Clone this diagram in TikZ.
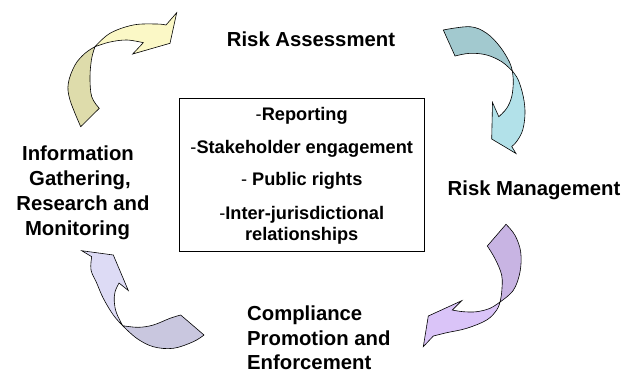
\documentclass[tikz,border=0pt]{standalone}
\usepackage{fontspec}
\setmainfont{Liberation Sans}
\definecolor{ylwHead}{HTML}{FBF8C6}
\definecolor{ylwTail}{HTML}{DEDCAB}
\definecolor{tealTail}{HTML}{A2C9CF}
\definecolor{tealHead}{HTML}{B2E1E9}
\definecolor{violTail}{HTML}{C8B4E3}
\definecolor{violHead}{HTML}{DAC4F8}
\definecolor{lilaTail}{HTML}{C9C7DF}
\definecolor{lilaHead}{HTML}{DDDBF5}
\begin{document}
\begin{tikzpicture}[x=1pt,y=-1pt,
  lbl/.style={font=\fontsize{20.3}{24.5}\selectfont\bfseries, inner sep=0pt},
  itm/.style={font=\fontsize{18.2}{21}\selectfont\bfseries, inner sep=0pt, anchor=base},
  band/.style={draw=black, line width=0.6pt, line join=miter},
  edge/.style={smooth, tension=0.6}]
\useasboundingbox (0,0) rectangle (623,373);

% ---------- twisted cycle arrows ----------
% top left (yellow)
\coordinate (A1) at (80.7,126.7); \coordinate (B1) at (99.3,108.3);
\coordinate (C1) at (95,46.7);    \coordinate (D1) at (166,25);
\coordinate (F1) at (176.7,12.7); \coordinate (G1) at (170,43.3);
\coordinate (H1) at (132.7,54);   \coordinate (E1) at (143.3,42.7);
\filldraw[band, fill=ylwTail]
  plot[edge] coordinates {(A1) (70,100) (68.3,83.3) (75,65) (85,53.3) (C1)}
  -- plot[edge] coordinates {(C1) (91.7,58.3) (90,76.7) (91.7,96.7) (B1)} -- cycle;
\filldraw[band, fill=ylwHead]
  plot[edge] coordinates {(C1) (110,33.3) (133.3,25) (156.7,24) (D1)}
  -- (F1) -- (G1) -- (H1) -- (E1)
  -- plot[edge] coordinates {(E1) (127,40) (110,42) (C1)} -- cycle;

% top right (teal)
\coordinate (A2) at (443.3,30);   \coordinate (B2) at (455,56);
\coordinate (C2) at (512.3,71);   \coordinate (D2) at (511.7,146.5);
\coordinate (F2) at (516,153.5);  \coordinate (G2) at (491.7,139);
\coordinate (H2) at (492.5,102.5);\coordinate (E2) at (498.8,116.7);
\filldraw[band, fill=tealTail]
  plot[edge] coordinates {(A2) (470,26.7) (486.7,33.3) (500,46.7) (509.3,61.7) (C2)}
  -- plot[edge] coordinates {(C2) (501.7,61.7) (486.7,55) (470,53.3) (B2)} -- cycle;
\filldraw[band, fill=tealHead]
  plot[edge] coordinates {(C2) (518.3,80) (523.3,96.7) (525,113.3) (522.7,130) (517,141) (D2)}
  -- (F2) -- (G2) -- (H2) -- (E2)
  -- plot[edge] coordinates {(E2) (506.7,108.3) (511.7,96.7) (513.3,82) (C2)} -- cycle;

% bottom right (violet)
\coordinate (A3) at (487.3,246);  \coordinate (B3) at (506,224.3);
\coordinate (C3) at (500,302);    \coordinate (D3) at (433.3,336);
\coordinate (F3) at (423.3,346.7);\coordinate (G3) at (428.3,316);
\coordinate (H3) at (461.7,300.7);\coordinate (E3) at (452.3,310);
\filldraw[band, fill=violTail]
  plot[edge] coordinates {(B3) (515,235.3) (520.7,252) (520,272) (513.3,290.3) (C3)}
  -- plot[edge] coordinates {(C3) (501.7,292) (501.7,275.3) (495,258.7) (A3)} -- cycle;
\filldraw[band, fill=violHead]
  plot[edge] coordinates {(C3) (496.7,310) (486.7,320) (466.7,328.3) (446.7,332.7) (D3)}
  -- (F3) -- (G3) -- (H3) -- (E3)
  -- plot[edge] coordinates {(E3) (463.3,311.7) (476.7,311.7) (490,308.3) (C3)} -- cycle;

% bottom left (lilac)
\coordinate (A4) at (180.7,315);  \coordinate (B4) at (204,335);
\coordinate (C4) at (122.7,325.7);\coordinate (D4) at (91.7,256.7);
\coordinate (F4) at (81.7,250.7); \coordinate (G4) at (113.3,255);
\coordinate (H4) at (128.3,290.5);\coordinate (E4) at (119,283);
\filldraw[band, fill=lilaTail]
  plot[edge] coordinates {(A4) (170,318.3) (153.3,325) (138.3,327.3) (C4)}
  -- plot[edge] coordinates {(C4) (136.7,338.3) (153.3,346.7) (173.3,348.3) (193.3,341.7) (B4)} -- cycle;
\filldraw[band, fill=lilaHead]
  plot[edge] coordinates {(C4) (113.3,315) (103.3,298.3) (96.7,283) (91,270) (D4)}
  -- (F4) -- (G4) -- (H4) -- (E4)
  -- plot[edge] coordinates {(E4) (115,292) (114.3,302) (116.5,313) (C4)} -- cycle;

% ---------- central box ----------
\node[draw, line width=0.8pt, minimum width=245pt, minimum height=153pt, inner sep=0pt]
  (box) at (301.5,174.5) {};
\node[itm] (rep)  at (301.7,120)   {{\mdseries -}Reporting};
\node[itm] (stk)  at (301.7,153.3) {{\mdseries -}Stakeholder engagement};
\node[itm] (pub)  at (301.7,185.7) {{\mdseries -} Public rights};
\node[itm] (intA) at (301.7,219.3) {{\mdseries -}Inter-jurisdictional};
\node[itm] (intB) at (301.7,240)   {relationships};

% ---------- stage labels ----------
\node[lbl, anchor=base] (assess) at (311,46)  {Risk Assessment};
\node[lbl, anchor=base] (manage) at (534,195) {Risk Management};
\node[lbl, anchor=base] (infoA) at (78,160.7) {Information};
\node[lbl, anchor=base] (infoB) at (80,185)   {Gathering,};
\node[lbl, anchor=base] (infoC) at (83,210)   {Research and};
\node[lbl, anchor=base] (infoD) at (77.5,235) {Monitoring};
\node[lbl, anchor=base west] (compA) at (247,320.5) {Compliance};
\node[lbl, anchor=base west] (compB) at (247,345)   {Promotion and};
\node[lbl, anchor=base west] (compC) at (247,369)   {Enforcement};
\end{tikzpicture}
\end{document}
